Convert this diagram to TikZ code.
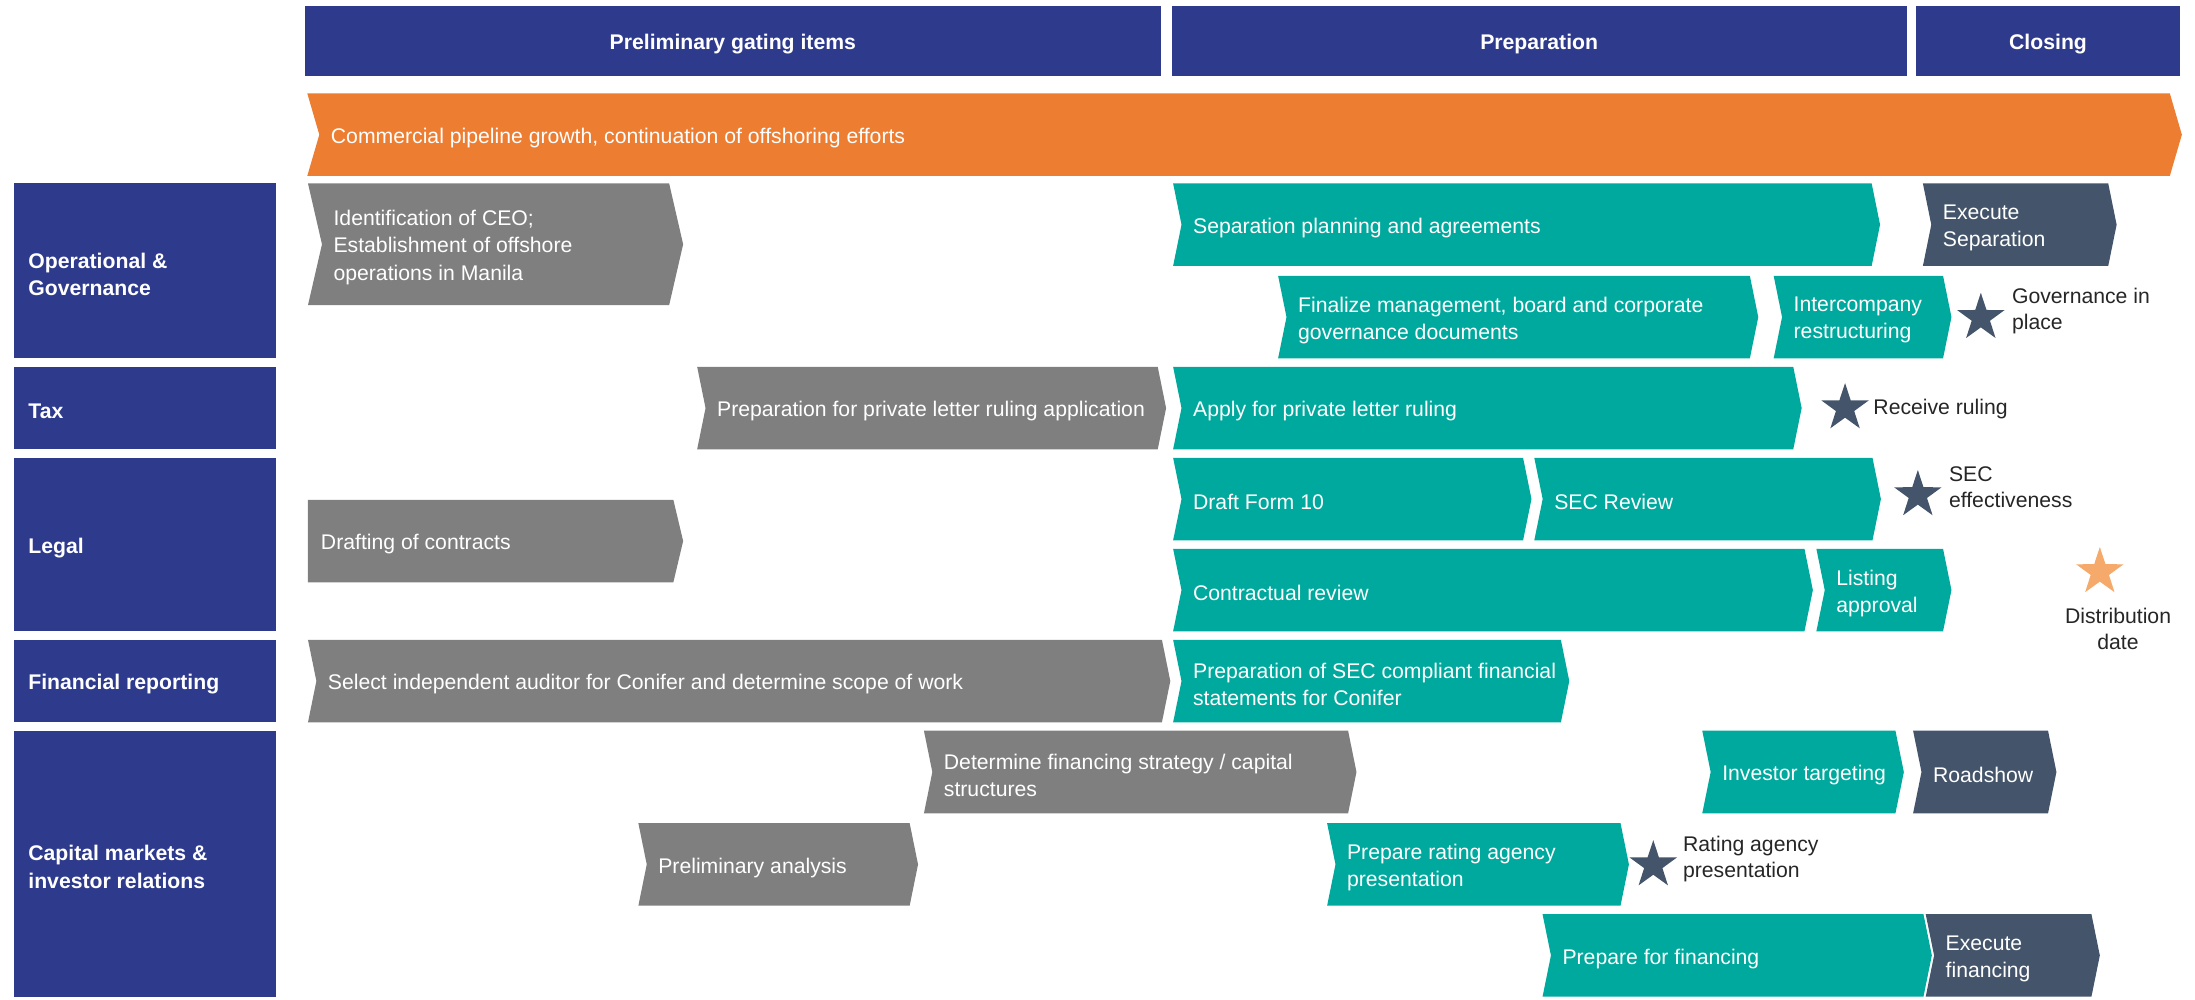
\documentclass[tikz,border=0pt]{standalone}
\usepackage{fontspec}
\setmainfont{Liberation Sans}
\usetikzlibrary{shapes.geometric}
\definecolor{Navy}{HTML}{2E3A8C}
\definecolor{Orange}{HTML}{ED7D31}
\definecolor{Grey}{HTML}{7F7F7F}
\definecolor{Teal}{HTML}{00A99D}
\definecolor{Slate}{HTML}{44546A}
\definecolor{StarOrange}{HTML}{F5A96A}
\definecolor{Ink}{HTML}{262626}
\tikzset{
    bartext/.style={anchor=west, inner sep=0pt, yshift=-1.6pt, text=white, align=left, font=\fontsize{10.6}{13.6}\selectfont},
    headtext/.style={inner sep=0pt, yshift=-1.6pt, text=white, font=\bfseries\fontsize{10.6}{13.6}\selectfont},
    rowtext/.style={anchor=west, inner sep=0pt, yshift=-1.6pt, text=white, align=left, font=\bfseries\fontsize{10.6}{13.6}\selectfont},
    milestone/.style={star, star points=5, star point ratio=2.6, inner sep=0pt, minimum size=25pt, fill=Slate},
    note/.style={anchor=west, inner sep=0pt, yshift=-1.6pt, text=Ink, align=left, font=\fontsize{10.6}{13}\selectfont},
}
% chevron: [depth]{name}{colour}{x left}{x tip}{y top}{y bottom}{text}
\newcommand{\chevron}[8][6]{%
    \fill[#3] (#4,#6) -- ({#5-#1},#6) -- (#5,{(#6+#7)/2}) -- ({#5-#1},#7) -- (#4,#7) -- ({#4+#1},{(#6+#7)/2}) -- cycle;
    \node[bartext] (#2) at ({#4+#1+8},{(#6+#7)/2}) {#8};
}
% row label box: {name}{y top}{y bottom}{text}
\newcommand{\rowlabel}[4]{%
    \fill[Navy] (10,#2) rectangle (197,#3);
    \node[rowtext] (#1) at (20,{(#2+#3)/2}) {#4};
}
% phase header: {name}{x left}{x right}{text}
\newcommand{\phase}[4]{%
    \fill[Navy] (#2,4.3) rectangle (#3,54.3);
    \node[headtext] (#1) at ({(#2+#3)/2},29.3) {#4};
}

\begin{document}
\begin{tikzpicture}[x=0.7pt, y=-0.7pt]
    \useasboundingbox (0,0) rectangle (1568,714);

    % Phases
    \phase{hdrGating}{218}{829}{Preliminary gating items}
    \phase{hdrPrep}{837}{1362}{Preparation}
    \phase{hdrClose}{1369}{1557}{Closing}

    % Workstreams
    \rowlabel{rowOps}{131}{256}{Operational \&\\Governance}
    \rowlabel{rowTax}{262}{321}{Tax}
    \rowlabel{rowLegal}{327}{451}{Legal}
    \rowlabel{rowFin}{457}{516}{Financial reporting}
    \rowlabel{rowCap}{522}{712}{Capital markets \&\\investor relations}

    % Running effort across all phases
    \chevron[8.6]{pipeline}{Orange}{219.5}{1558.6}{66.7}{125.7}{Commercial pipeline growth, continuation of offshoring efforts}

    % Operational & Governance
    \chevron[10]{idCEO}{Grey}{220}{488}{131}{218}{Identification of CEO;\\Establishment of offshore\\operations in Manila}
    \chevron{sepPlan}{Teal}{838}{1343}{131}{190}{Separation planning and agreements}
    \chevron{execSep}{Slate}{1373.6}{1512}{131}{190}{Execute\\Separation}
    \chevron{govDocs}{Teal}{913}{1256}{197}{256}{Finalize management, board and corporate\\governance documents}
    \chevron{interco}{Teal}{1267}{1394}{197}{256}{Intercompany\\restructuring}

    % Tax
    \chevron{plrPrep}{Grey}{498}{833}{262}{321}{Preparation for private letter ruling application}
    \chevron{plrApply}{Teal}{838}{1287}{262}{321}{Apply for private letter ruling}

    % Legal
    \fill[Grey] (220,357) -- (481,357) -- (488,386.5) -- (481,416) -- (220,416) -- cycle;
    \node[bartext] (drafting) at (229,386.5) {Drafting of contracts};
    \chevron{form10}{Teal}{838}{1094}{327}{386}{Draft Form 10}
    \chevron{secRev}{Teal}{1096}{1343.6}{327}{386}{SEC Review}
    \chevron{contract}{Teal}{838}{1295}{392}{451}{Contractual review}
    \chevron{listing}{Teal}{1297.5}{1394}{392}{451}{Listing\\approval}

    % Financial reporting
    \chevron{auditor}{Grey}{220}{836}{457}{516}{Select independent auditor for Conifer and determine scope of work}
    \chevron{secFin}{Teal}{838}{1121}{457}{516}{Preparation of SEC compliant financial\\statements for Conifer}

    % Capital markets & investor relations
    \chevron{finStrat}{Grey}{660}{969}{522}{581}{Determine financing strategy / capital\\structures}
    \chevron{invTarget}{Teal}{1216}{1360}{522}{581}{Investor targeting}
    \chevron{roadshow}{Slate}{1366.6}{1469}{522}{581}{Roadshow}
    \chevron{prelim}{Grey}{456}{655.8}{588}{647}{Preliminary analysis}
    \chevron{rating}{Teal}{948}{1163.6}{588}{647}{Prepare rating agency\\presentation}
    \chevron{prepFin}{Teal}{1101.9}{1380}{653}{712}{Prepare for financing}
    \chevron{execFin}{Slate}{1375.6}{1500}{653}{712}{Execute\\financing}

    % Milestones
    \node[milestone] (govStar) at (1415,227) {};
    \node[note] (govLbl) at (1437,220) {Governance in\\place};
    \node[milestone] (rulingStar) at (1318,291.5) {};
    \node[note] (rulingLbl) at (1338,290) {Receive ruling};
    \node[milestone] (secStar) at (1370,353.6) {};
    \node[note] (secLbl) at (1392,345.5) {SEC\\effectiveness};
    \node[milestone] (ratingStar) at (1181,618) {};
    \node[note] (ratingLbl) at (1202,611) {Rating agency\\presentation};
    \node[milestone, fill=StarOrange] (distStar) at (1500,408.6) {};
    \node[note, anchor=center, align=center] (distLbl) at (1513,447) {Distribution\\date};
\end{tikzpicture}
\end{document}
